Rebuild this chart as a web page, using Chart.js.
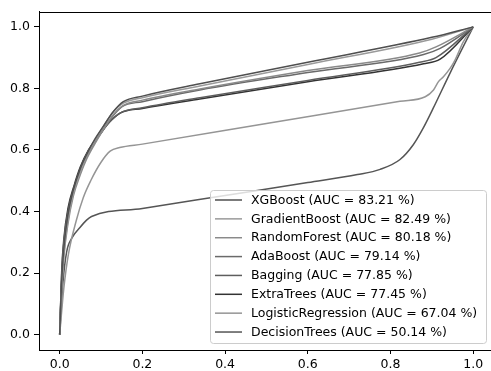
<!DOCTYPE html>
<html>
<head>
<meta charset="utf-8">
<script src="https://cdn.jsdelivr.net/npm/chart.js@4.4.1/dist/chart.umd.min.js"></script>
<style>
  html, body { margin: 0; padding: 0; background: #fff; overflow: hidden; }
  canvas { display: block; }
</style>
</head>
<body>
<canvas id="graficaRoc" width="491" height="371"></canvas>
<script>
// ticks de los ejes
const xTicks = [0, 0.2, 0.4, 0.6, 0.8, 1.0];
const yTicks = [0, 0.2, 0.4, 0.6, 0.8, 1.0];

// nombres de modelos y colores (escala de grises)
const modelos = ['XGBoost', 'GradientBoost', 'RandomForest', 'AdaBoost', 'Bagging', 'ExtraTrees', 'LogisticRegression', 'DecisionTrees'];
const aucs = [83.21, 82.49, 80.18, 79.14, 77.85, 77.45, 67.04, 50.14];
const colores = ['#4f4f4f', '#9a9a9a', '#8a8a8a', '#6a6a6a', '#5e5e5e', '#333333', '#959595', '#555555'];

// curvas ROC (fpr, tpr)
const xgbFpr = [0, 0.004, 0.01, 0.02, 0.033, 0.05, 0.065, 0.085, 0.105, 0.13, 0.154, 0.2, 0.339, 0.6, 0.9, 1];
const xgbTpr = [0, 0.15, 0.28, 0.39, 0.47, 0.54, 0.585, 0.635, 0.676, 0.725, 0.757, 0.775, 0.815, 0.885, 0.966, 1];

const gbFpr = [0, 0.004, 0.01, 0.02, 0.033, 0.05, 0.065, 0.085, 0.105, 0.13, 0.154, 0.2, 0.339, 0.6, 0.9, 1];
const gbTpr = [0, 0.13, 0.26, 0.37, 0.46, 0.53, 0.58, 0.63, 0.675, 0.725, 0.752, 0.77, 0.808, 0.878, 0.96, 1];

const rfFpr = [0, 0.004, 0.01, 0.02, 0.033, 0.05, 0.065, 0.085, 0.105, 0.13, 0.154, 0.2, 0.339, 0.6, 0.87, 0.91, 1];
const rfTpr = [0, 0.12, 0.25, 0.36, 0.45, 0.52, 0.57, 0.62, 0.665, 0.715, 0.745, 0.762, 0.798, 0.858, 0.915, 0.935, 1];

const adaFpr = [0, 0.005, 0.01, 0.02, 0.035, 0.05, 0.07, 0.097, 0.12, 0.15, 0.2, 0.339, 0.6, 0.88, 0.92, 1];
const adaTpr = [0, 0.18, 0.29, 0.39, 0.47, 0.53, 0.59, 0.65, 0.695, 0.74, 0.757, 0.795, 0.852, 0.91, 0.93, 1];

const bagFpr = [0, 0.005, 0.01, 0.02, 0.035, 0.05, 0.07, 0.097, 0.12, 0.146, 0.2, 0.339, 0.6, 0.87, 0.91, 1];
const bagTpr = [0, 0.2, 0.3, 0.4, 0.48, 0.54, 0.6, 0.65, 0.69, 0.72, 0.737, 0.77, 0.826, 0.885, 0.9, 1];

const etFpr = [0, 0.005, 0.01, 0.02, 0.035, 0.05, 0.07, 0.097, 0.12, 0.146, 0.2, 0.339, 0.6, 0.88, 0.92, 1];
const etTpr = [0, 0.21, 0.31, 0.41, 0.485, 0.545, 0.6, 0.65, 0.69, 0.72, 0.735, 0.766, 0.822, 0.88, 0.895, 1];

const lrFpr = [0, 0.01, 0.021, 0.04, 0.057, 0.075, 0.1, 0.122, 0.145, 0.2, 0.5, 0.823, 0.884, 0.904, 0.916, 0.928, 0.944, 0.956, 0.976, 1];
const lrTpr = [0, 0.15, 0.26, 0.37, 0.445, 0.5, 0.56, 0.596, 0.608, 0.619, 0.686, 0.758, 0.773, 0.795, 0.822, 0.838, 0.865, 0.892, 0.951, 1];

const dtFpr = [0, 0.008, 0.017, 0.03, 0.049, 0.065, 0.077, 0.2, 0.4, 0.6, 0.72, 0.775, 0.823, 0.855, 0.879, 0.903, 0.944, 1];
const dtTpr = [0, 0.17, 0.27, 0.315, 0.348, 0.372, 0.384, 0.41, 0.452, 0.494, 0.52, 0.537, 0.569, 0.617, 0.671, 0.735, 0.85, 1];

const curvasFpr = [xgbFpr, gbFpr, rfFpr, adaFpr, bagFpr, etFpr, lrFpr, dtFpr];
const curvasTpr = [xgbTpr, gbTpr, rfTpr, adaTpr, bagTpr, etTpr, lrTpr, dtTpr];

const fuente = '"DejaVu Sans", "Liberation Sans", sans-serif';

var datasets = [];
for (var i = 0; i < modelos.length; i++) {
    var puntos = curvasFpr[i].map((fx, k) => ({ x: fx, y: curvasTpr[i][k] }));
    datasets.push({
        label: modelos[i] + ' (AUC = ' + aucs[i].toFixed(2) + ' %)',
        data: puntos,
        borderColor: colores[i],
        borderWidth: 1.5,
        pointRadius: 0,
        fill: false,
        cubicInterpolationMode: 'monotone'
    });
}

// marco superior + leyenda dentro del area del grafico
const pluginLeyenda = {
    id: 'leyendaRoc',
    afterDraw(chart) {
        const ctx = chart.ctx;
        const area = chart.chartArea;
        ctx.save();
        ctx.strokeStyle = '#000';
        ctx.lineWidth = 1;
        ctx.beginPath();
        ctx.moveTo(area.left, Math.round(area.top) + 0.5);
        ctx.lineTo(area.right, Math.round(area.top) + 0.5);
        ctx.stroke();

        const bx = 210.5, by = 190.5, bw = 276, bh = 153;
        ctx.beginPath();
        ctx.roundRect(bx, by, bw, bh, 3);
        ctx.fillStyle = 'rgba(255,255,255,0.8)';
        ctx.fill();
        ctx.strokeStyle = '#cccccc';
        ctx.stroke();

        ctx.font = '12.5px ' + fuente;
        ctx.textBaseline = 'middle';
        ctx.textAlign = 'left';
        chart.data.datasets.forEach((ds, j) => {
            const yy = 200 + j * 18.86;
            ctx.strokeStyle = ds.borderColor;
            ctx.lineWidth = 1.5;
            ctx.beginPath();
            ctx.moveTo(215, yy);
            ctx.lineTo(242, yy);
            ctx.stroke();
            ctx.fillStyle = '#000';
            ctx.fillText(ds.label, 251, yy + 0.5);
        });
        ctx.restore();
    }
};

const ctx = document.getElementById('graficaRoc').getContext('2d');
const graficaRoc = new Chart(ctx, {
    type: 'line',
    data: { datasets: datasets },
    options: {
        responsive: false,
        animation: false,
        devicePixelRatio: 1,
        layout: { padding: { top: 9, right: 0, left: 0, bottom: 0 } },
        plugins: {
            legend: { display: false },
            tooltip: { enabled: false }
        },
        scales: {
            x: {
                type: 'linear',
                min: -0.05,
                max: 1.043,
                afterBuildTicks: s => { s.ticks = xTicks.map(v => ({ value: v })); },
                afterFit: s => { s.height = 21; },
                ticks: {
                    callback: v => Number(v).toFixed(1),
                    font: { size: 12.5, family: fuente },
                    color: '#000',
                    padding: 3,
                    maxRotation: 0
                },
                grid: { display: true, drawOnChartArea: false, drawTicks: true, tickLength: 4, color: '#000' },
                border: { display: true, color: '#000', width: 1 }
            },
            y: {
                type: 'linear',
                min: -0.05,
                max: 1.05,
                afterBuildTicks: s => { s.ticks = yTicks.map(v => ({ value: v })); },
                afterFit: s => { s.width = 39; },
                ticks: {
                    callback: v => Number(v).toFixed(1),
                    font: { size: 12.5, family: fuente },
                    color: '#000',
                    padding: 4
                },
                grid: { display: true, drawOnChartArea: false, drawTicks: true, tickLength: 5, color: '#000' },
                border: { display: true, color: '#000', width: 1 }
            }
        }
    },
    plugins: [pluginLeyenda]
});
</script>
</body>
</html>
